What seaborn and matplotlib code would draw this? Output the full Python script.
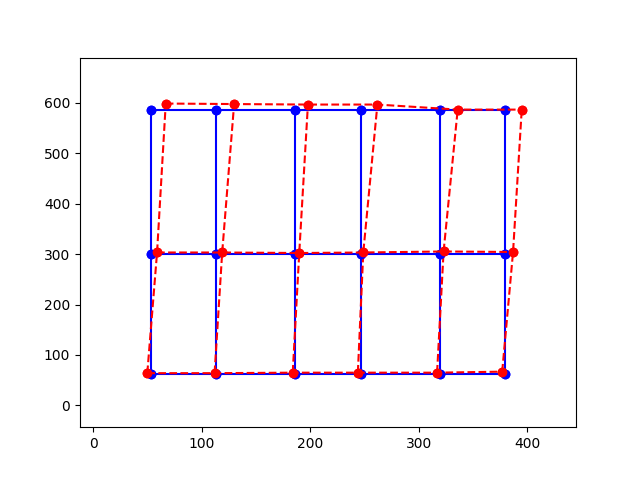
import matplotlib
matplotlib.use("Agg")
import matplotlib.pyplot as plt
import seaborn as sns
import numpy as np

# original (blue) grid
blue_x = [53, 113, 186, 247, 320, 380]
blue_y = [63, 300, 586]

# displaced (red) grid, one list per row, bottom to top
red_x_bottom = [50, 112, 184, 244, 317, 377]
red_y_bottom = [64, 64, 65, 65, 65, 67]
red_x_middle = [59, 119, 190, 249, 323, 387]
red_y_middle = [303, 303, 302, 303, 305, 304]
red_x_top = [67, 130, 198, 262, 336, 395]
red_y_top = [598, 597, 596, 596, 586, 586]

bx = np.array([blue_x] * len(blue_y), dtype=float)
by = np.array([[v] * len(blue_x) for v in blue_y], dtype=float)
rx = np.array([red_x_bottom, red_x_middle, red_x_top], dtype=float)
ry = np.array([red_y_bottom, red_y_middle, red_y_top], dtype=float)

fig, ax = plt.subplots(figsize=(6.4, 4.8), dpi=100)


def draw_line(x, y, color, ls):
    sns.lineplot(x=x, y=y, sort=False, estimator=None, ax=ax, color=color,
                 linewidth=1.5, marker="o", markersize=6,
                 markeredgecolor=color, markeredgewidth=1)
    ax.lines[-1].set_linestyle(ls)


# columns
for j in range(bx.shape[1]):
    draw_line(bx[:, j], by[:, j], "b", "-")
    draw_line(rx[:, j], ry[:, j], "r", "--")

# rows
for i in range(bx.shape[0]):
    draw_line(bx[i], by[i], "b", "-")
    draw_line(rx[i], ry[i], "r", "--")

ax.set_xlim(-12, 445)
ax.set_ylim(-43, 689)
ax.set_xticks([0, 100, 200, 300, 400])
ax.set_yticks([0, 100, 200, 300, 400, 500, 600])

fig.savefig("out.png", dpi=100)
